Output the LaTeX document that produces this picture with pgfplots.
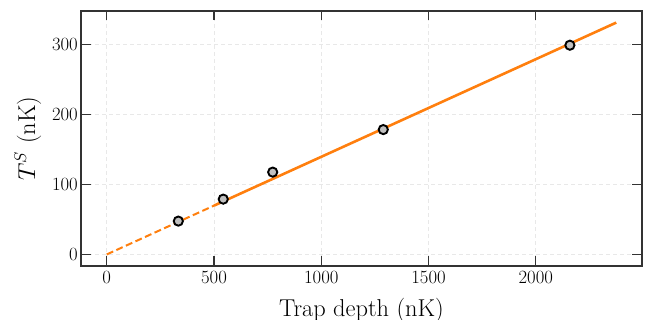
\RequirePackage{fix-cm}
\documentclass[border=0pt]{standalone}
\usepackage{pgfplots}
\pgfplotsset{compat=1.18}
\definecolor{mplorange}{HTML}{FF7F0E}
\definecolor{mkfill}{RGB}{192,192,192}
\definecolor{axgray}{HTML}{333333}
\begin{document}
\begin{tikzpicture}
\begin{axis}[
  name=ax,
  scale only axis,
  width=560.4pt, height=255pt,
  xmin=-118.75, xmax=2493.75,
  ymin=-16.56, ymax=347.9,
  xtick={0,500,1000,1500,2000},
  ytick={0,100,200,300},
  scaled ticks=false,
  /pgf/number format/1000 sep={},
  tick pos=both,
  tick align=inside,
  major tick length=9.5pt,
  minor tick num=0,
  every tick/.style={axgray, line width=1.4pt},
  axis line style={axgray, line width=1.6pt},
  tick label style={font=\fontsize{18.7}{22}\selectfont, text=black},
  xticklabel style={yshift=-2pt},
  label style={font=\fontsize{24.4}{29}\selectfont, text=black},
  xlabel={Trap depth (nK)},
  ylabel={$T^S$ (nK)},
  xlabel style={at={(axis description cs:0.5,-0.199)}, anchor=base},
  ylabel style={at={(axis description cs:-0.0826,0.5)}, anchor=base},
  grid=major,
  major grid style={black!9, line width=0.8pt, dash pattern=on 4pt off 3pt},
  clip=false,
]
\addplot[only marks, mark=*, mark size=4.6pt,
  mark options={fill=mkfill, draw=black, line width=1.9pt}]
  coordinates {(333.6,47.6) (543,79) (773.5,117.6) (1289,178.4) (2159,299)};
\addplot[mplorange, line width=2pt, dash pattern=on 7pt off 3.5pt]
  coordinates {(0,0) (500,69.75)};
\addplot[mplorange, line width=2.6pt]
  coordinates {(500,69.75) (2375,331.3)};
\end{axis}
\pgfresetboundingbox
\path[use as bounding box] ([shift={(-81.3pt,-54pt)}]ax.south west) rectangle ([shift={(8.3pt,11pt)}]ax.north east);
\end{tikzpicture}
\end{document}
